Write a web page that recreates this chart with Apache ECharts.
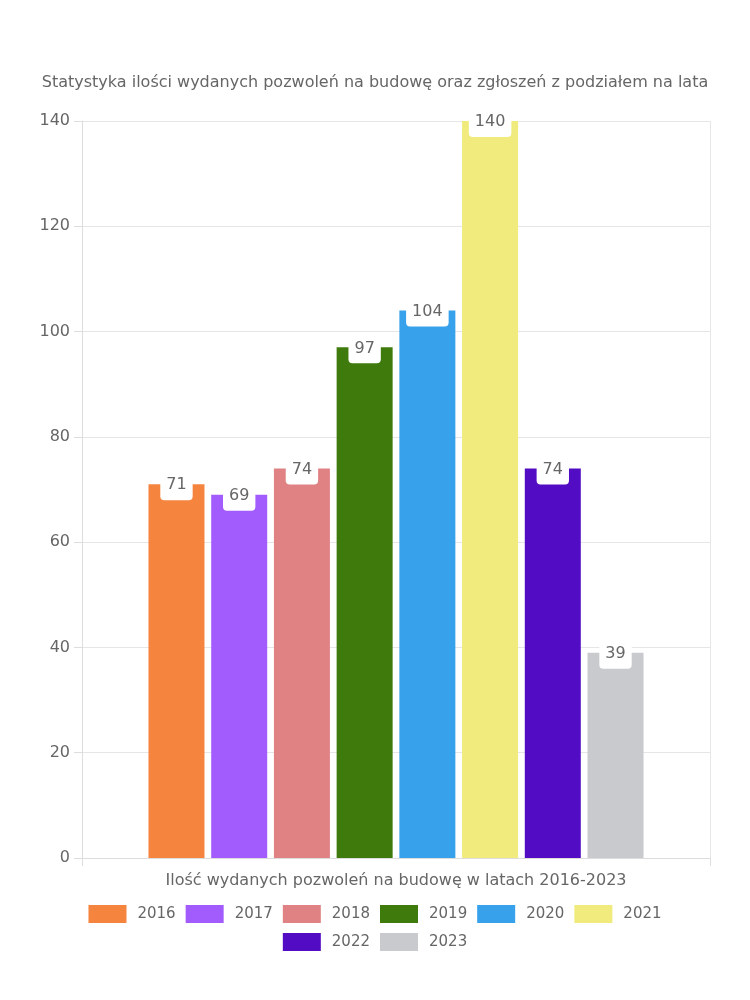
<!DOCTYPE html>
<html><head><meta charset="utf-8">
<script src="https://cdn.jsdelivr.net/npm/echarts@6/dist/echarts.min.js"></script>
<style>html,body{margin:0;padding:0;background:#fff}#c{width:750px;height:1000px}</style>
</head><body><div id="c"></div>
<script>
const categories = [''];
const years = ['2016','2017','2018','2019','2020','2021','2022','2023'];
const values = [71, 69, 74, 97, 104, 140, 74, 39];
const colors = ['#F5843F','#A25BFC','#E08283','#3E7B0C','#37A2EB','#F0EB7C','#520CC4','#C9CACE'];
const yTicks = [0, 20, 40, 60, 80, 100, 120, 140];
const titleText = 'Statystyka ilości wydanych pozwoleń na budowę oraz zgłoszeń z podziałem na lata';
const xName = 'Ilość wydanych pozwoleń na budowę w latach 2016-2023';

const FONT = 'DejaVu Sans';
const legendCommon = {
  left: 'center', itemWidth: 38, itemHeight: 18, itemGap: 10,
  textStyle: { fontSize: 15, color: '#666', fontFamily: FONT, padding: [0, 0, 0, 6] },
  icon: 'rect'
};
const chart = echarts.init(document.getElementById('c'));
chart.setOption({
  animation: false,
  textStyle: { fontFamily: FONT },
  title: { text: titleText, left: 'center', top: 70, textStyle: { fontFamily: FONT, fontSize: 16, fontWeight: 'normal', color: '#666' } },
  grid: { left: 82, right: 40, top: 121, bottom: 142, containLabel: false },
  legend: [
    Object.assign({ data: years.slice(0, 6), top: 900 }, legendCommon),
    Object.assign({ data: years.slice(6), top: 928 }, legendCommon)
  ],
  xAxis: {
    type: 'category', data: categories,
    name: xName, nameLocation: 'middle', nameGap: 15,
    nameTextStyle: { fontSize: 16, color: '#666', fontFamily: FONT },
    axisLine: { lineStyle: { color: '#ddd' } },
    axisTick: { show: true, length: 8, lineStyle: { color: '#ddd' } },
    axisLabel: { show: false },
    splitLine: { show: true, lineStyle: { color: '#e6e6e6' } }
  },
  yAxis: {
    type: 'value', min: yTicks[0], max: yTicks[yTicks.length - 1], interval: 20,
    axisLine: { show: true, lineStyle: { color: '#ddd' } },
    axisTick: { show: true, length: 8, lineStyle: { color: '#ddd' } },
    axisLabel: { fontSize: 16, color: '#666', margin: 12, fontFamily: FONT },
    splitLine: { lineStyle: { color: '#e6e6e6' } }
  },
  series: years.map((y, i) => ({
    name: y, type: 'bar', data: [values[i]],
    barWidth: 56, barGap: '12%',
    itemStyle: { color: colors[i] },
    label: {
      show: true, position: 'insideTop', offset: [0, -15],
      backgroundColor: '#fff', borderRadius: 4, padding: [3, 6, 7, 6],
      color: '#666', fontSize: 16, fontFamily: FONT
    }
  }))
});
</script></body></html>
